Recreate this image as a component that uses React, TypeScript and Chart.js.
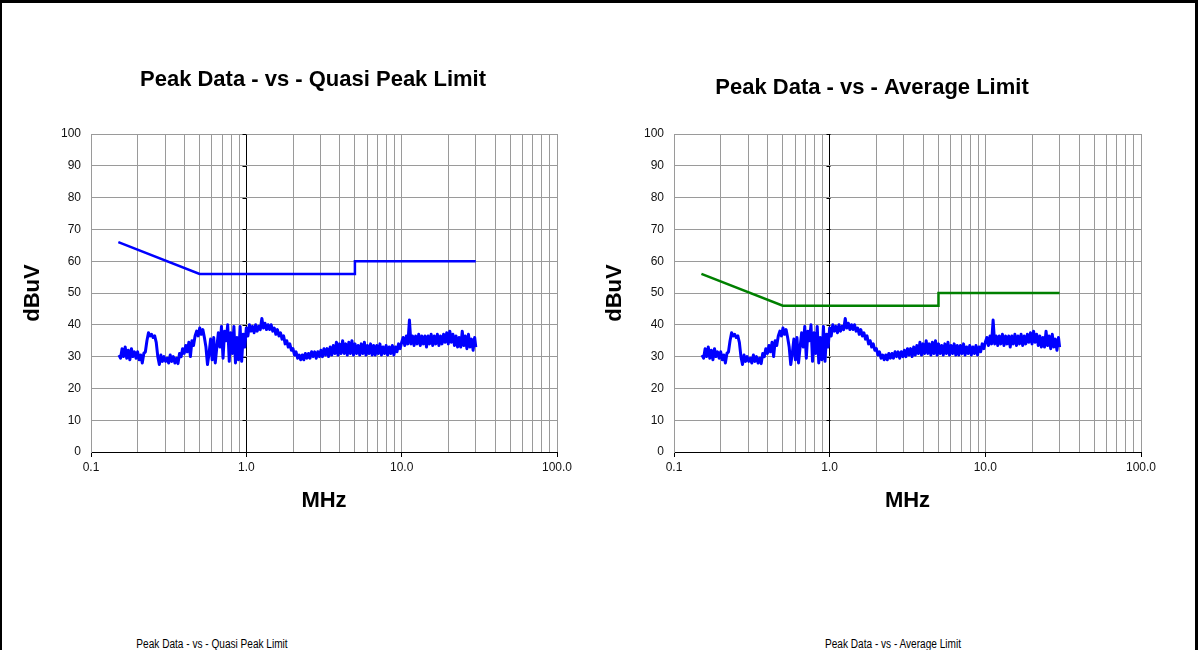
import React, { useEffect, useRef } from "react";
import { Chart, registerables } from "chart.js";

Chart.register(...registerables);

const FONT = '"Liberation Sans", Arial, Helvetica, sans-serif';

// Frequency gridlines (MHz) and the decade labels on the log axis
const freqGridMHz = [
  0.1, 0.2, 0.3, 0.4, 0.5, 0.6, 0.7, 0.8, 0.9,
  1, 2, 3, 4, 5, 6, 7, 8, 9,
  10, 20, 30, 40, 50, 60, 70, 80, 90, 100,
];
const freqDecadesMHz = [0.1, 1, 10, 100];
const freqDecadeLabels = ["0.1", "1.0", "10.0", "100.0"];
const levelTicks = [0, 10, 20, 30, 40, 50, 60, 70, 80, 90, 100];

// Conducted emission limit lines (dBuV)
const limitFreqsMHz = [0.15, 0.5, 5, 5, 30];
const quasiPeakLimit = [66, 56, 56, 60, 60];
const averageLimit = [56, 46, 46, 50, 50];

// Peak detector sweep, 150 kHz .. 30 MHz
const sweepLowMHz = [
  0.1514, 0.1549, 0.1585, 0.1622, 0.166, 0.1698, 0.1738, 0.1778, 0.182, 0.1862, 0.1905, 0.195,
  0.1995, 0.2042, 0.2089, 0.2138, 0.2188, 0.2239, 0.2291, 0.2344, 0.2399, 0.2455,
  0.2512, 0.257, 0.263, 0.2692, 0.2754, 0.2818, 0.2884, 0.2951, 0.302, 0.309,
  0.3162, 0.3236, 0.3311, 0.3388, 0.3467, 0.3548, 0.3631, 0.3715, 0.3802, 0.389,
  0.3981, 0.4074, 0.4169, 0.4266, 0.4365, 0.4467, 0.4571, 0.4677, 0.4786, 0.4898,
  0.5012, 0.5129, 0.5248, 0.537, 0.5495, 0.5623, 0.5754, 0.5888, 0.6026, 0.6166,
  0.631, 0.6457, 0.6607, 0.6761, 0.6918, 0.7079, 0.7244, 0.7413, 0.7586, 0.7762,
  0.7943, 0.8128, 0.8318, 0.8511, 0.871, 0.8913, 0.912, 0.9333, 0.955, 0.9772,
];
const peakLow = [
  30.5, 29.5, 32.5, 30, 33, 29.5, 32, 29, 32.5, 30, 31.5, 29.5,
  31.5, 29, 30.5, 28, 31, 31.5, 35, 37.5, 36.5, 37,
  36, 36.5, 34.5, 30, 27.5, 30.5, 28.5, 30, 28.5, 29.5,
  28, 30.5, 28.5, 30, 28, 29.5, 27.8, 31, 30, 32.5,
  31, 33.5, 31.5, 34.5, 30, 35, 33.5, 36.5, 38, 36.5,
  39, 37, 38.5, 36, 33, 27.5, 31, 35.5, 29, 36,
  28, 33, 37.5, 33, 39.5, 29.5, 38, 35, 40, 28.5,
  37.5, 31, 39.5, 28, 36, 29, 39.5, 28.5, 37, 33,
];
const sweepMidMHz = [
  1.0, 1.023, 1.047, 1.072, 1.096, 1.122, 1.148, 1.175, 1.202, 1.23,
  1.259, 1.288, 1.318, 1.349, 1.38, 1.413, 1.445, 1.479, 1.514, 1.549,
  1.585, 1.622, 1.66, 1.698, 1.738, 1.778, 1.82, 1.862, 1.905, 1.95,
  1.995, 2.042, 2.089, 2.138, 2.188, 2.239, 2.291, 2.344, 2.399, 2.455,
  2.512, 2.57, 2.63, 2.692, 2.754, 2.818, 2.884, 2.951, 3.02, 3.09,
  3.162, 3.236, 3.311, 3.388, 3.467, 3.548, 3.631, 3.715, 3.802, 3.89,
  3.981, 4.074, 4.169, 4.266, 4.365, 4.467, 4.571, 4.677, 4.786, 4.898,
  5.012, 5.129, 5.248, 5.37, 5.495, 5.623, 5.754, 5.888, 6.026, 6.166,
  6.31, 6.457, 6.607, 6.761, 6.918, 7.079, 7.244, 7.413, 7.586, 7.762,
  7.943, 8.128, 8.318, 8.511, 8.71, 8.913, 9.12, 9.333, 9.55, 9.772,
];
const peakMid = [
  39, 36.5, 40, 38, 39.5, 37.5, 40, 38, 39.5, 38.5,
  42, 39, 40.5, 38.5, 40, 38.5, 40, 38, 39, 37,
  38.5, 36.5, 37.5, 35.5, 36.5, 34, 35, 33, 34, 32,
  32.5, 30.5, 31.5, 29.5, 30.5, 29, 30.5, 29, 31, 29.5,
  31, 29.5, 31.5, 30, 31.5, 29.5, 31.5, 30, 32, 30,
  32.5, 30.5, 32.5, 30, 33, 30.5, 33.5, 31, 34.5, 30.5,
  34, 31, 35, 31, 34, 30.5, 34.5, 31, 35, 30.5,
  34, 31, 33.5, 30.5, 34, 31, 34.5, 30.5, 33.5, 31,
  34, 30.5, 33.5, 30.5, 33.5, 31, 34, 30.5, 33, 31,
  33.5, 30.5, 33, 31, 33.5, 30.5, 33, 31.5, 34, 32.5,
];
const sweepHighMHz = [
  10.0, 10.23, 10.47, 10.72, 10.96, 11.22, 11.48, 11.75, 12.02, 12.3,
  12.59, 12.88, 13.18, 13.49, 13.8, 14.13, 14.45, 14.79, 15.14, 15.49,
  15.85, 16.22, 16.6, 16.98, 17.38, 17.78, 18.2, 18.62, 19.05, 19.5,
  19.95, 20.42, 20.89, 21.38, 21.88, 22.39, 22.91, 23.44, 23.99, 24.55,
  25.12, 25.7, 26.3, 26.92, 27.54, 28.18, 28.84, 29.51, 30.0,
];
const peakHigh = [
  34.5, 36, 33.5, 36.5, 34, 41.5, 34, 36.5, 33.5, 36.5,
  34, 37, 33.5, 36.5, 34, 36.5, 33, 36.5, 34, 37,
  33.5, 36.5, 34, 37, 33.5, 36.5, 34, 37, 34.5, 37.5,
  34, 38, 34.5, 37, 33.5, 36.5, 33, 36, 33, 38,
  33.5, 36.5, 32.5, 37, 33, 35.5, 32, 36, 33,
];

const CANVAS_W = 599;
const CANVAS_H = 530;

type PanelProps = {
  left: number;
  title: string;
  titleX: number;
  titleY: number;
  limit: number[];
  limitColor: string;
  padLeft: number;
  padRight: number;
  yAxisWidth: number;
  yTitleGap: number;
};

const isDecade = (v: number) =>
  freqDecadesMHz.some((d) => Math.abs(v - d) < d * 1e-6);

function EmissionPanel(props: PanelProps) {
  const ref = useRef<HTMLCanvasElement>(null);

  useEffect(() => {
    const canvas = ref.current;
    if (!canvas) return;

    const toPoints = (xs: number[], ys: number[]) =>
      xs.map((x, i) => ({ x, y: ys[i] }));
    const peakPoints = [
      ...toPoints(sweepLowMHz, peakLow),
      ...toPoints(sweepMidMHz, peakMid),
      ...toPoints(sweepHighMHz, peakHigh),
    ];
    const limitPoints = toPoints(limitFreqsMHz, props.limit);

    const headline = {
      id: "headline",
      afterDraw(chart: any) {
        const c = chart.ctx;
        c.save();
        c.font = `bold 22px ${FONT}`;
        c.fillStyle = "#000";
        c.textAlign = "center";
        c.textBaseline = "middle";
        c.fillText(props.title, props.titleX, props.titleY);
        c.restore();
      },
    };

    // short tick marks where the level axis crosses at 1.0 MHz
    const axisCrossing = {
      id: "axisCrossing",
      beforeDatasetsDraw(chart: any) {
        const { ctx: c, scales } = chart;
        const px = Math.round(scales.x.getPixelForValue(1)) + 0.5;
        c.save();
        c.strokeStyle = "#000";
        c.lineWidth = 1;
        c.beginPath();
        levelTicks.forEach((v) => {
          const py = Math.round(scales.y.getPixelForValue(v)) + 0.5;
          c.moveTo(px - 4, py);
          c.lineTo(px, py);
        });
        c.stroke();
        c.restore();
      },
    };

    const chart = new Chart(canvas, {
      type: "line",
      data: {
        datasets: [
          {
            data: limitPoints,
            borderColor: props.limitColor,
            borderWidth: 2.5,
            pointRadius: 0,
            tension: 0,
          },
          {
            data: peakPoints,
            borderColor: "#0000FF",
            borderWidth: 3,
            borderJoinStyle: "round",
            pointRadius: 0,
            tension: 0,
          },
        ],
      },
      options: {
        responsive: false,
        animation: false,
        events: [],
        layout: {
          padding: { left: props.padLeft, right: props.padRight, top: 134, bottom: 16 },
        },
        plugins: {
          legend: { display: false },
          tooltip: { enabled: false },
          title: { display: false },
        },
        scales: {
          x: {
            type: "logarithmic",
            min: 0.1,
            max: 100,
            afterBuildTicks: (scale: any) => {
              scale.ticks = freqGridMHz.map((v) => ({ value: v }));
            },
            afterFit: (scale: any) => {
              scale.height = 62;
            },
            ticks: {
              autoSkip: false,
              maxRotation: 0,
              minRotation: 0,
              padding: 3,
              color: "#111",
              font: { family: FONT, size: 12 },
              callback: (value: any) => {
                const i = freqDecadesMHz.findIndex(
                  (d) => Math.abs(Number(value) - d) < d * 1e-6
                );
                return i >= 0 ? freqDecadeLabels[i] : "";
              },
            },
            grid: {
              color: (ctx: any) =>
                ctx.tick && Math.abs(ctx.tick.value - 1) < 1e-6 ? "#000" : "#9a9a9a",
              lineWidth: 1,
              drawTicks: true,
              tickLength: 5,
              tickColor: (ctx: any) =>
                ctx.tick && isDecade(ctx.tick.value) ? "#000" : "rgba(0,0,0,0)",
            },
            border: { display: true, color: "#000", width: 1 },
            title: {
              display: true,
              text: "MHz",
              color: "#000",
              font: { family: FONT, size: 22, weight: "bold" },
              padding: { top: 0, bottom: 0 },
            },
          },
          y: {
            type: "linear",
            min: 0,
            max: 100,
            afterBuildTicks: (scale: any) => {
              scale.ticks = levelTicks.map((v) => ({ value: v }));
            },
            afterFit: (scale: any) => {
              scale.width = props.yAxisWidth;
            },
            ticks: {
              padding: 10,
              color: "#111",
              font: { family: FONT, size: 12 },
            },
            grid: {
              color: (ctx: any) =>
                ctx.tick && ctx.tick.value === 0 ? "#000" : "#9a9a9a",
              lineWidth: 1,
              drawTicks: false,
            },
            border: { display: true, color: "#9a9a9a", width: 1 },
            title: {
              display: true,
              text: "dBuV",
              color: "#000",
              font: { family: FONT, size: 22, weight: "bold" },
              padding: { top: props.yTitleGap, bottom: 0 },
            },
          },
        },
      } as any,
      plugins: [headline, axisCrossing],
    });

    return () => chart.destroy();
  }, []);

  return (
    <canvas
      ref={ref}
      width={CANVAS_W}
      height={CANVAS_H}
      style={{ position: "absolute", left: props.left, top: 0, width: CANVAS_W, height: CANVAS_H }}
    />
  );
}

export default function App() {
  const caption: React.CSSProperties = {
    position: "absolute",
    top: 637,
    fontFamily: FONT,
    fontSize: 12,
    lineHeight: "15px",
    color: "#000",
    whiteSpace: "nowrap",
    transform: "translateX(-50%) scaleX(0.84)",
  };
  return (
    <div
      style={{
        position: "absolute",
        left: 0,
        top: 0,
        width: 1198,
        height: 650,
        overflow: "hidden",
        background: "#fff",
      }}
    >
      <div
        style={{
          position: "absolute",
          left: 0,
          top: 0,
          width: 1198,
          height: 700,
          boxSizing: "border-box",
          borderTop: "3px solid #000",
          borderLeft: "2px solid #000",
          borderRight: "3px solid #000",
        }}
      />
      <EmissionPanel
        left={0}
        title="Peak Data - vs - Quasi Peak Limit"
        titleX={313}
        titleY={80}
        limit={quasiPeakLimit}
        limitColor="#0000FF"
        padLeft={10}
        padRight={42}
        yAxisWidth={81}
        yTitleGap={10}
      />
      <EmissionPanel
        left={599}
        title="Peak Data - vs - Average Limit"
        titleX={273}
        titleY={88}
        limit={averageLimit}
        limitColor="#008000"
        padLeft={0}
        padRight={57}
        yAxisWidth={75}
        yTitleGap={3}
      />
      <div style={{ ...caption, left: 212 }}>Peak Data - vs - Quasi Peak Limit</div>
      <div style={{ ...caption, left: 893 }}>Peak Data - vs - Average Limit</div>
    </div>
  );
}
